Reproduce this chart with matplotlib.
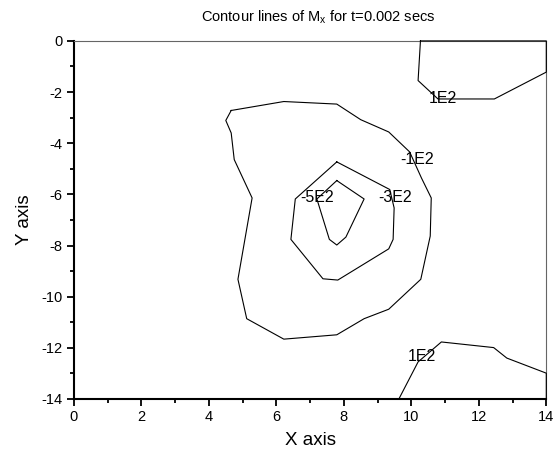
import matplotlib.pyplot as plt
from matplotlib.ticker import MultipleLocator

plt.rcParams['font.family'] = ['Liberation Sans', 'DejaVu Sans']
plt.rcParams['axes.unicode_minus'] = False

# contour at -1E2 (outer ring around the minimum)
c1_x = [4.66, 6.22, 7.79, 8.50, 9.33, 9.95, 10.30, 10.59, 10.56, 10.28, 9.33,
        8.60, 7.79, 6.22, 5.12, 4.86, 5.28, 4.75, 4.66, 4.50, 4.66]
c1_y = [-2.72, -2.37, -2.47, -3.08, -3.56, -4.34, -5.36, -6.14, -7.63, -9.32,
        -10.49, -10.86, -11.49, -11.66, -10.86, -9.32, -6.14, -4.64, -3.60,
        -3.11, -2.72]

# contour at -3E2
c3_x = [7.79, 9.36, 9.49, 9.46, 9.33, 7.82, 7.38, 6.43, 6.56, 7.79]
c3_y = [-4.73, -5.81, -6.53, -7.76, -8.13, -9.35, -9.30, -7.76, -6.18, -4.73]

# contour at -5E2
c5_x = [7.79, 8.60, 8.06, 7.79, 7.57, 7.20, 7.79]
c5_y = [-5.46, -6.18, -7.67, -7.98, -7.76, -6.18, -5.46]

# contour at 1E2, top right corner
p1_x = [10.27, 10.20, 10.79, 12.46, 14.0, 14.0, 10.27]
p1_y = [0.0, -1.55, -2.27, -2.27, -1.22, 0.0, 0.0]

# contour at 1E2, bottom right corner
p2_x = [9.63, 10.20, 10.89, 12.44, 12.83, 14.0, 14.0, 9.63]
p2_y = [-14.0, -12.55, -11.77, -11.99, -12.40, -12.99, -14.0, -14.0]

labels = ['-1E2', '-3E2', '-5E2', '1E2', '1E2']
label_x = [10.17, 9.51, 7.20, 10.92, 10.30]
label_y = [-4.62, -6.14, -6.14, -2.26, -12.34]

fig = plt.figure(figsize=(5.55, 4.51), dpi=100)
ax = fig.add_axes([0.1333, 0.1153, 0.851, 0.794])

for xs, ys in [(c1_x, c1_y), (c3_x, c3_y), (c5_x, c5_y), (p1_x, p1_y), (p2_x, p2_y)]:
    ax.plot(xs, ys, color='black', linewidth=0.8, clip_on=False, zorder=3)

for t, x, y in zip(labels, label_x, label_y):
    ax.text(x, y, t, fontsize=11.5, ha='center', va='center', zorder=4)

ax.set_xlim(0, 14)
ax.set_ylim(-14, 0)
ax.xaxis.set_major_locator(MultipleLocator(2))
ax.xaxis.set_minor_locator(MultipleLocator(1))
ax.yaxis.set_major_locator(MultipleLocator(2))
ax.yaxis.set_minor_locator(MultipleLocator(1))
ax.tick_params(which='both', direction='out', width=1.3, labelsize=10.5, pad=3)
ax.tick_params(which='major', length=5)
ax.tick_params(which='minor', length=3)

ax.spines['left'].set_linewidth(1.5)
ax.spines['bottom'].set_linewidth(1.5)
for s in ['top', 'right']:
    ax.spines[s].set_linewidth(0.8)
    ax.spines[s].set_color('#666666')

ax.set_xlabel('X axis', fontsize=13.5, labelpad=6)
ax.set_ylabel('Y axis', fontsize=13.5, labelpad=6)
fig.text(0.573, 0.961, r'Contour lines of M$_{\mathregular{x}}$ for t=0.002 secs',
         fontsize=10.5, ha='center', va='center')

fig.savefig('out.png', dpi=100)
